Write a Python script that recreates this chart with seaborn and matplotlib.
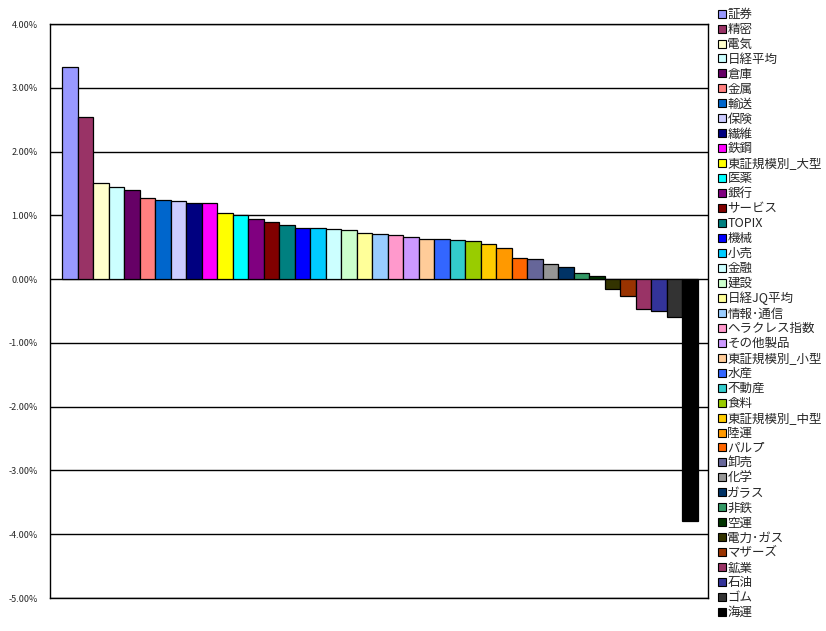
import matplotlib
matplotlib.use("Agg")
import matplotlib.pyplot as plt
import seaborn as sns
import pandas as pd
from matplotlib.lines import Line2D
from matplotlib.ticker import FuncFormatter

categories = ["証券", "精密", "電気", "日経平均", "倉庫", "金属", "輸送", "保険", "繊維", "鉄鋼",
              "東証規模別_大型", "医薬", "銀行", "サービス", "TOPIX", "機械", "小売", "金融", "建設", "日経JQ平均",
              "情報･通信", "ヘラクレス指数", "その他製品", "東証規模別_小型", "水産", "不動産", "食料", "東証規模別_中型", "陸運", "パルプ",
              "卸売", "化学", "ガラス", "非鉄", "空運", "電力･ガス", "マザーズ", "鉱業", "石油", "ゴム", "海運"]
values = [3.33, 2.54, 1.51, 1.445, 1.40, 1.27, 1.24, 1.23, 1.19, 1.19,
          1.04, 1.01, 0.94, 0.90, 0.85, 0.80, 0.80, 0.79, 0.77, 0.72,
          0.71, 0.69, 0.66, 0.63, 0.63, 0.61, 0.59, 0.55, 0.49, 0.33,
          0.32, 0.24, 0.19, 0.10, 0.05, -0.15, -0.26, -0.47, -0.50, -0.59, -3.79]
colors = ["#9999FF", "#993366", "#FFFFCC", "#CCFFFF", "#660066", "#FF8080", "#0066CC", "#CCCCFF", "#000080", "#FF00FF",
          "#FFFF00", "#00FFFF", "#800080", "#800000", "#008080", "#0000FF", "#00CCFF", "#CCFFFF", "#CCFFCC", "#FFFF99",
          "#99CCFF", "#FF99CC", "#CC99FF", "#FFCC99", "#3366FF", "#33CCCC", "#99CC00", "#FFCC00", "#FF9900", "#FF6600",
          "#666699", "#969696", "#003366", "#339966", "#003300", "#333300", "#993300", "#993366", "#333399", "#333333", "#000000"]
yticks = [4, 3, 2, 1, 0, -1, -2, -3, -4, -5]

sns.set_style("white")
plt.rcParams['font.family'] = ['Noto Sans CJK JP', 'DejaVu Sans']

df = pd.DataFrame({"cat": categories, "val": values})
fig = plt.figure(figsize=(8.26, 6.31), dpi=100)
ax = fig.add_axes([50/826, 1-598/631, (708-50)/826, (598-24)/631])

sns.barplot(data=df, x="cat", y="val", hue="cat", palette=colors, order=categories,
            hue_order=categories, dodge=False, width=1.0, legend=False,
            edgecolor="black", linewidth=0.9, saturation=1, ax=ax, zorder=3)

ax.set_ylim(-5, 4)
ax.set_xlim(-0.5 - 12/15.5, len(categories) - 0.5 + 10/15.5)
ax.set_yticks(yticks)
ax.yaxis.set_major_formatter(FuncFormatter(lambda v, p: f"{v:.2f}%"))
ax.set_xticks([])
ax.set_xlabel("")
ax.set_ylabel("")
ax.grid(axis="y", color="black", linewidth=1.0, zorder=0)
ax.set_axisbelow(True)
ax.tick_params(axis="y", length=0, labelsize=6.5, pad=9, left=False)
for s in ax.spines.values():
    s.set_color("black")
    s.set_linewidth(1.0)

handles = [Line2D([0], [0], marker="s", linestyle="none", markersize=5.5,
                  markerfacecolor=c, markeredgecolor="black", markeredgewidth=0.8)
           for c in colors]
fig.legend(handles, categories, loc="upper left", bbox_to_anchor=(718/826, 1-8/631),
           frameon=False, fontsize=9, labelspacing=0.155, handlelength=0.6,
           handletextpad=0.15, borderpad=0, borderaxespad=0)

fig.savefig("out.png", dpi=100)
